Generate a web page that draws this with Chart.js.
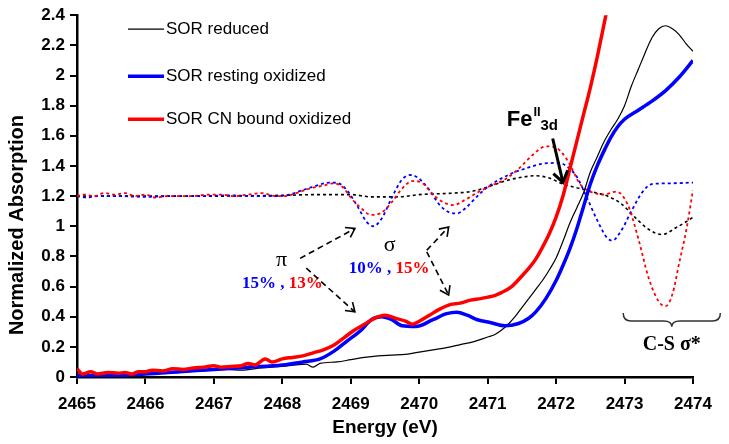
<!DOCTYPE html>
<html>
<head>
<meta charset="utf-8">
<script src="https://cdn.jsdelivr.net/npm/chart.js@4.4.0/dist/chart.umd.min.js"></script>
<style>
html,body{margin:0;padding:0;background:#fff;}
#wrap{width:729px;height:444px;position:relative;}
</style>
</head>
<body>
<div id="wrap"><canvas id="c" width="729" height="444"></canvas></div>
<script>
// ---------- DATA ----------
const seriesLabels = ['SOR reduced', 'SOR resting oxidized', 'SOR CN bound oxidized'];
const xTickLabels = ['2465','2466','2467','2468','2469','2470','2471','2472','2473','2474'];
const yTickLabels = ['0','0.2','0.4','0.6','0.8','1','1.2','1.4','1.6','1.8','2','2.2','2.4'];

// SOR reduced (black solid)
const energyReduced = [2465.0,2465.3,2465.6,2466.0,2466.4,2466.8,2467.2,2467.4,2467.7,2468.0,2468.2,2468.35,2468.45,2468.55,2468.8,2469.0,2469.2,2469.4,2469.6,2469.8,2470.0,2470.2,2470.4,2470.6,2470.8,2471.0,2471.1,2471.2,2471.3,2471.4,2471.5,2471.6,2471.7,2471.8,2471.9,2472.0,2472.1,2472.2,2472.3,2472.4,2472.5,2472.6,2472.7,2472.8,2472.9,2473.0,2473.1,2473.2,2473.3,2473.4,2473.5,2473.6,2473.7,2473.8,2473.9,2474.0];
const absReduced = [0.0,0.0,0.01,0.02,0.03,0.04,0.05,0.045,0.06,0.07,0.08,0.085,0.065,0.09,0.10,0.115,0.13,0.14,0.145,0.15,0.165,0.18,0.195,0.215,0.235,0.265,0.28,0.31,0.35,0.40,0.46,0.52,0.58,0.64,0.71,0.79,0.90,1.02,1.12,1.22,1.36,1.46,1.56,1.64,1.71,1.80,1.93,2.04,2.15,2.25,2.31,2.33,2.31,2.27,2.21,2.16];

// SOR resting oxidized (blue solid)
const energyResting = [2465.0,2465.5,2466.0,2466.5,2467.0,2467.5,2468.0,2468.3,2468.55,2468.75,2468.95,2469.15,2469.3,2469.45,2469.6,2469.75,2469.95,2470.2,2470.4,2470.55,2470.7,2470.85,2471.05,2471.25,2471.45,2471.6,2471.7,2471.85,2472.0,2472.1,2472.2,2472.3,2472.4,2472.5,2472.6,2472.7,2472.8,2472.9,2473.0,2473.2,2473.4,2473.6,2473.8,2474.0];
const absResting = [0.01,0.01,0.02,0.035,0.05,0.065,0.08,0.10,0.12,0.17,0.24,0.31,0.38,0.40,0.38,0.34,0.335,0.38,0.42,0.43,0.41,0.38,0.36,0.34,0.355,0.39,0.43,0.52,0.64,0.74,0.85,0.98,1.13,1.28,1.40,1.50,1.59,1.66,1.71,1.77,1.83,1.90,1.99,2.10];

// SOR CN bound oxidized (red solid)
const energyCN = [2465.0,2465.08,2465.2,2465.3,2465.45,2465.6,2465.7,2465.8,2465.9,2466.0,2466.1,2466.25,2466.4,2466.55,2466.7,2466.85,2467.0,2467.1,2467.25,2467.4,2467.5,2467.6,2467.75,2467.85,2468.0,2468.15,2468.3,2468.45,2468.6,2468.75,2468.9,2469.05,2469.2,2469.35,2469.5,2469.65,2469.8,2469.9,2470.0,2470.15,2470.3,2470.45,2470.6,2470.75,2470.9,2471.0,2471.1,2471.2,2471.35,2471.5,2471.6,2471.7,2471.8,2471.9,2472.0,2472.1,2472.2,2472.3,2472.4,2472.5,2472.6,2472.7,2472.75];
const absCN = [0.055,0.02,0.035,0.02,0.03,0.025,0.03,0.02,0.035,0.035,0.045,0.04,0.055,0.05,0.06,0.065,0.075,0.065,0.07,0.075,0.09,0.08,0.12,0.10,0.12,0.13,0.14,0.16,0.18,0.21,0.26,0.31,0.35,0.39,0.41,0.39,0.37,0.35,0.37,0.41,0.45,0.48,0.49,0.51,0.52,0.53,0.54,0.56,0.60,0.67,0.72,0.78,0.86,0.95,1.06,1.20,1.38,1.56,1.74,1.92,2.12,2.34,2.45];

// Second-derivative traces (dotted, offset to 1.2)
const energyReducedDeriv = [2465.0,2466.0,2467.0,2468.0,2468.5,2469.0,2469.3,2469.7,2470.0,2470.5,2470.75,2471.0,2471.25,2471.5,2471.7,2471.9,2472.1,2472.35,2472.6,2472.75,2472.95,2473.15,2473.35,2473.55,2473.75,2473.9,2474.0];
const derivReduced = [1.20,1.20,1.20,1.205,1.21,1.21,1.195,1.195,1.21,1.22,1.23,1.26,1.30,1.325,1.335,1.32,1.28,1.25,1.22,1.20,1.15,1.06,0.98,0.945,0.99,1.03,1.06];

const energyRestingDeriv = [2465.0,2465.15,2465.3,2465.6,2466.0,2466.4,2466.8,2467.2,2467.6,2467.9,2468.1,2468.3,2468.5,2468.7,2468.82,2468.95,2469.1,2469.23,2469.33,2469.45,2469.6,2469.75,2469.88,2470.0,2470.15,2470.3,2470.45,2470.55,2470.7,2470.85,2471.0,2471.3,2471.6,2471.8,2472.05,2472.2,2472.3,2472.45,2472.6,2472.75,2472.82,2472.95,2473.1,2473.25,2473.4,2473.7,2474.0];
const derivResting = [1.20,1.19,1.20,1.20,1.195,1.20,1.20,1.205,1.20,1.20,1.21,1.24,1.27,1.29,1.285,1.235,1.13,1.03,1.00,1.05,1.19,1.31,1.34,1.315,1.24,1.14,1.09,1.085,1.13,1.20,1.26,1.34,1.39,1.415,1.42,1.38,1.33,1.19,1.04,0.92,0.905,0.97,1.10,1.22,1.28,1.285,1.29];

const energyCNDeriv = [2465.0,2465.1,2465.25,2465.4,2465.55,2465.7,2465.85,2466.0,2466.15,2466.3,2466.5,2466.7,2466.9,2467.1,2467.3,2467.5,2467.7,2467.9,2468.05,2468.2,2468.4,2468.6,2468.75,2468.88,2469.0,2469.15,2469.3,2469.45,2469.6,2469.75,2469.9,2470.05,2470.2,2470.35,2470.5,2470.65,2470.8,2471.0,2471.25,2471.45,2471.65,2471.85,2472.0,2472.1,2472.2,2472.35,2472.5,2472.7,2472.88,2473.05,2473.2,2473.35,2473.5,2473.6,2473.7,2473.8,2473.9,2474.0];
const derivCN = [1.20,1.21,1.20,1.22,1.21,1.22,1.20,1.21,1.19,1.20,1.20,1.20,1.21,1.21,1.20,1.21,1.22,1.20,1.20,1.22,1.25,1.27,1.285,1.26,1.19,1.12,1.075,1.09,1.16,1.25,1.30,1.285,1.21,1.16,1.14,1.17,1.21,1.26,1.31,1.38,1.47,1.53,1.52,1.48,1.41,1.28,1.23,1.21,1.23,1.14,0.92,0.66,0.50,0.47,0.55,0.76,0.97,1.24];

// ---------- COLOURS ----------
const cBlack = '#000000', cBlue = '#0000ff', cRed = '#ff0000';

const pts = (xs, ys) => xs.map((e, i) => ({x: e, y: ys[i]}));

const datasets = [
  {label: seriesLabels[0], data: pts(energyReduced, absReduced), borderColor: cBlack, borderWidth: 1.2, order: 3},
  {label: seriesLabels[1], data: pts(energyResting, absResting), borderColor: cBlue, borderWidth: 3.5, order: 2},
  {label: seriesLabels[2], data: pts(energyCN, absCN), borderColor: cRed, borderWidth: 3.5, order: 1},
  {label: 'reduced 2nd derivative', data: pts(energyReducedDeriv, derivReduced), borderColor: cBlack, borderWidth: 1.6, borderDash: [3, 3], order: 6},
  {label: 'resting 2nd derivative', data: pts(energyRestingDeriv, derivResting), borderColor: cBlue, borderWidth: 1.8, borderDash: [3, 3], order: 5},
  {label: 'CN 2nd derivative', data: pts(energyCNDeriv, derivCN), borderColor: cRed, borderWidth: 1.8, borderDash: [3, 3], order: 4}
].map(d => Object.assign({pointRadius: 0, fill: false, cubicInterpolationMode: 'monotone', backgroundColor: d.borderColor}, d));

// ---------- ANNOTATIONS (in data units) ----------
const piLabel = {x: 2467.99, y: 0.775};
const piPct = {x: 2468.0, y: 0.62};
const sigmaLabel = {x: 2469.57, y: 0.875};
const sigmaPct = {x: 2469.56, y: 0.72};
const dashedArrows = [
  [2468.26, 0.787, 2469.06, 0.985],
  [2468.35, 0.722, 2469.06, 0.432],
  [2470.11, 0.841, 2470.43, 0.995],
  [2470.11, 0.830, 2470.43, 0.544]
];
const feArrow = [2471.95, 1.582, 2472.10, 1.291];
const feLabel = {x: 2471.28, y: 1.668};
const brace = {x0: 2472.98, x1: 2474.40, xm: 2473.69, yTop: 0.425, yMid: 0.372, yTip: 0.333};
const csLabel = {x: 2473.69, y: 0.214};

function arrow(ctx, x1, y1, x2, y2, headLen, dash, width) {
  ctx.save();
  ctx.strokeStyle = '#000';
  ctx.lineWidth = width;
  ctx.setLineDash(dash);
  ctx.beginPath(); ctx.moveTo(x1, y1); ctx.lineTo(x2, y2); ctx.stroke();
  ctx.setLineDash([]);
  const a = Math.atan2(y2 - y1, x2 - x1);
  const s = 0.6;
  ctx.beginPath();
  ctx.moveTo(x2 - headLen * Math.cos(a - s), y2 - headLen * Math.sin(a - s));
  ctx.lineTo(x2, y2);
  ctx.lineTo(x2 - headLen * Math.cos(a + s), y2 - headLen * Math.sin(a + s));
  ctx.stroke();
  ctx.restore();
}

function multiText(ctx, parts, cx, cy) {
  let total = 0;
  parts.forEach(p => { ctx.font = p.font; total += ctx.measureText(p.t).width; });
  let x = cx - total / 2;
  parts.forEach(p => {
    ctx.font = p.font; ctx.fillStyle = p.c;
    ctx.textAlign = 'left'; ctx.textBaseline = 'middle';
    ctx.fillText(p.t, x, cy);
    x += ctx.measureText(p.t).width;
  });
}

const annotPlugin = {
  id: 'annot',
  afterDatasetsDraw(chart) {
    const {ctx, scales: {x, y}, chartArea} = chart;
    const X = v => x.getPixelForValue(v), Y = v => y.getPixelForValue(v);
    ctx.save();
    // custom legend inside plot
    const rows = [14, 61, 104];
    [0, 1, 2].forEach(i => {
      const ds = chart.data.datasets[i];
      const yy = chartArea.top + rows[i];
      ctx.strokeStyle = ds.borderColor;
      ctx.lineWidth = ds.borderWidth;
      ctx.beginPath();
      ctx.moveTo(chartArea.left + 51, yy); ctx.lineTo(chartArea.left + 87, yy); ctx.stroke();
      ctx.fillStyle = '#000';
      ctx.font = '17px "Liberation Sans", Arial, sans-serif';
      ctx.textAlign = 'left'; ctx.textBaseline = 'middle';
      ctx.fillText(ds.label, chartArea.left + 89, yy);
    });

    // y-axis title
    ctx.save();
    ctx.translate(17, (chartArea.top + chartArea.bottom) / 2 + 29);
    ctx.rotate(-Math.PI / 2);
    ctx.font = 'bold 20px "Liberation Sans", Arial, sans-serif';
    ctx.fillStyle = '#000'; ctx.textAlign = 'center'; ctx.textBaseline = 'middle';
    ctx.fillText('Normalized Absorption', 0, 0);
    ctx.restore();

    // pi / sigma labels
    ctx.fillStyle = '#000';
    ctx.font = '22px "Liberation Serif", "Times New Roman", serif';
    ctx.textAlign = 'center'; ctx.textBaseline = 'middle';
    ctx.fillText('π', X(piLabel.x), Y(piLabel.y));
    ctx.fillText('σ', X(sigmaLabel.x), Y(sigmaLabel.y));
    const pf = 'bold 17px "Liberation Serif", "Times New Roman", serif';
    multiText(ctx, [{t: '15%', c: cBlue, font: pf}, {t: ' , ', c: cBlue, font: pf}, {t: '13%', c: cRed, font: pf}], X(piPct.x), Y(piPct.y));
    multiText(ctx, [{t: '10%', c: cBlue, font: pf}, {t: ' , ', c: cBlue, font: pf}, {t: '15%', c: cRed, font: pf}], X(sigmaPct.x), Y(sigmaPct.y));

    dashedArrows.forEach(a => arrow(ctx, X(a[0]), Y(a[1]), X(a[2]), Y(a[3]), 10, [6, 4], 1.6));
    arrow(ctx, X(feArrow[0]), Y(feArrow[1]), X(feArrow[2]), Y(feArrow[3]), 13, [], 3);

    // Fe II 3d label
    const fx = X(feLabel.x), fy = Y(feLabel.y);
    ctx.fillStyle = '#000'; ctx.textAlign = 'left'; ctx.textBaseline = 'alphabetic';
    ctx.font = 'bold 22px "Liberation Sans", Arial, sans-serif';
    ctx.fillText('Fe', fx, fy);
    const fw = ctx.measureText('Fe').width;
    ctx.font = 'bold 13px "Liberation Sans", Arial, sans-serif';
    ctx.fillText('II', fx + fw + 1, fy - 10);
    ctx.font = 'bold 15px "Liberation Sans", Arial, sans-serif';
    ctx.fillText('3d', fx + fw + 8, fy + 4);

    // brace
    const bx0 = X(brace.x0), bx1 = X(brace.x1), bxm = X(brace.xm);
    const byT = Y(brace.yTop), byM = Y(brace.yMid), byP = Y(brace.yTip);
    const r = 8;
    ctx.strokeStyle = '#333'; ctx.lineWidth = 1.5; ctx.setLineDash([]);
    ctx.beginPath();
    ctx.moveTo(bx0, byT);
    ctx.quadraticCurveTo(bx0, byM, bx0 + r, byM);
    ctx.lineTo(bxm - r, byM);
    ctx.quadraticCurveTo(bxm, byM, bxm, byP);
    ctx.quadraticCurveTo(bxm, byM, bxm + r, byM);
    ctx.lineTo(bx1 - r, byM);
    ctx.quadraticCurveTo(bx1, byM, bx1, byT);
    ctx.stroke();
    ctx.fillStyle = '#000';
    ctx.font = 'bold 20px "Liberation Serif", "Times New Roman", serif';
    ctx.textAlign = 'center'; ctx.textBaseline = 'middle';
    ctx.fillText('C-S σ*', X(csLabel.x), Y(csLabel.y));
    ctx.restore();
  }
};

const tickFont = {family: '"Liberation Sans", Arial, sans-serif', size: 17, weight: 'bold'};

new Chart(document.getElementById('c'), {
  type: 'line',
  data: {datasets},
  options: {
    responsive: false,
    animation: false,
    layout: {padding: {top: 14, right: 36, left: 0, bottom: 0}},
    plugins: {legend: {display: false}, tooltip: {enabled: false}},
    scales: {
      x: {
        type: 'linear', min: 2465, max: 2474,
        ticks: {stepSize: 1, color: '#000', font: tickFont, padding: 10, maxRotation: 0,
          callback: (v, i) => xTickLabels[i]},
        grid: {drawOnChartArea: false, drawTicks: true, tickLength: 7, color: '#000', lineWidth: 2},
        border: {color: '#000', width: 2.5},
        title: {display: true, text: 'Energy (eV)', color: '#000',
          font: {family: '"Liberation Sans", Arial, sans-serif', size: 19, weight: 'bold'}, padding: {top: 0, bottom: 5}},
        afterFit: s => { s.height = 67; }
      },
      y: {
        type: 'linear', min: 0, max: 2.4,
        ticks: {stepSize: 0.2, color: '#000', font: tickFont, padding: 5,
          callback: (v, i) => yTickLabels[i]},
        grid: {drawOnChartArea: false, drawTicks: true, tickLength: 7, color: '#000', lineWidth: 2},
        border: {color: '#000', width: 2.5},
        afterFit: s => { s.width = 77; }
      }
    }
  },
  plugins: [annotPlugin]
});
</script>
</body>
</html>
